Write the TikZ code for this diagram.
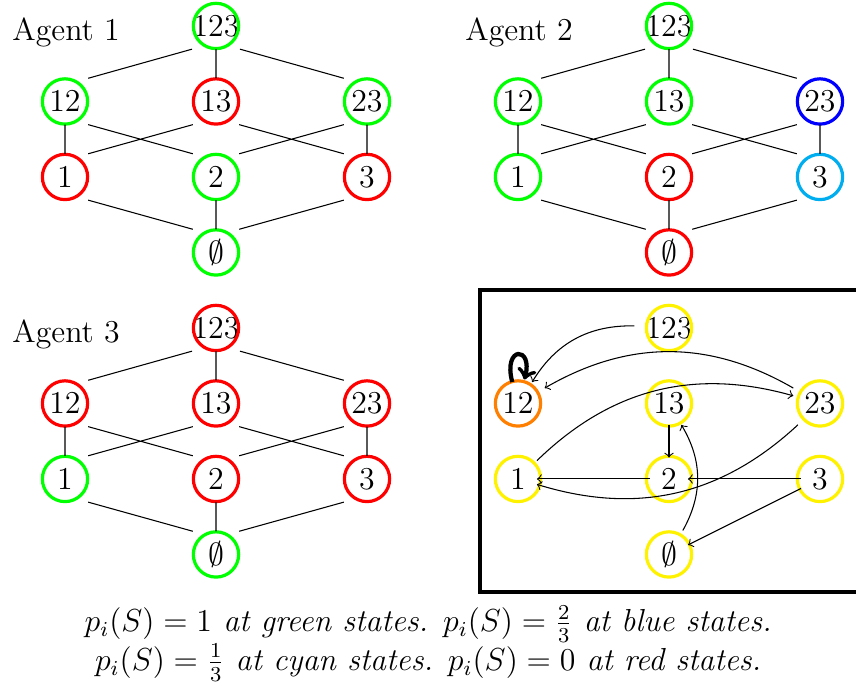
\documentclass[tikz,border=0pt,12pt]{standalone}
\usetikzlibrary{positioning}
\tikzset{
  ring/.style={circle, draw=#1, very thick, minimum size=6mm, inner sep=0pt},
  st/.style={rectangle, minimum size=6mm, inner sep=0pt, label={[ring=#1]center:}},
  bst/.style={label={[ring=#1]center:}}
}
\begin{document}
\begin{tikzpicture}[on grid, node distance=1cm and 2cm]
\useasboundingbox (-2.861,0.344) rectangle (8.477,-8.755);

\node[anchor=base west] (tA) at (-2.844,-0.186) {Agent 1};
\node[anchor=base west] (tB) at (3.156,-0.186) {Agent 2};
\node[anchor=base west] (tC) at (-2.844,-4.186) {Agent 3};

\node[st=green] (A123) at (0,0)             {$123$};
\node[st=green] (A12)  [below left=of A123]  {$12$};
\node[st=red]   (A13)  [below=of A123]       {$13$};
\node[st=green] (A23)  [below right=of A123] {$23$};
\node[st=red]   (A1)   [below=of A12]        {$1$};
\node[st=green] (A2)   [below=of A13]        {$2$};
\node[st=red]   (A3)   [below=of A23]        {$3$};
\node[st=green] (A0)   [below=of A2]         {$\emptyset$};

\node[st=green] (B123) [right=6cm of A123]   {$123$};
\node[st=green] (B12)  [below left=of B123]  {$12$};
\node[st=green] (B13)  [below=of B123]       {$13$};
\node[st=blue]  (B23)  [below right=of B123] {$23$};
\node[st=green] (B1)   [below=of B12]        {$1$};
\node[st=red]   (B2)   [below=of B13]        {$2$};
\node[st=cyan]  (B3)   [below=of B23]        {$3$};
\node[st=red]   (B0)   [below=of B2]         {$\emptyset$};

\node[st=red]   (C123) [below=4cm of A123]   {$123$};
\node[st=red]   (C12)  [below left=of C123]  {$12$};
\node[st=red]   (C13)  [below=of C123]       {$13$};
\node[st=red]   (C23)  [below right=of C123] {$23$};
\node[st=green] (C1)   [below=of C12]        {$1$};
\node[st=red]   (C2)   [below=of C13]        {$2$};
\node[st=red]   (C3)   [below=of C23]        {$3$};
\node[st=green] (C0)   [below=of C2]         {$\emptyset$};

\foreach \p in {A,B,C}
  \draw (\p123) -- (\p13) (\p12) -- (\p1) (\p23) -- (\p3) (\p2) -- (\p0)
        (\p123.south west) -- (\p12.north east) (\p123.south east) -- (\p23.north west)
        (\p12.south east) -- (\p2.north west) (\p13.south west) -- (\p1.north east)
        (\p13.south east) -- (\p3.north west) (\p23.south west) -- (\p2.north east)
        (\p1.south east) -- (\p0.north west) (\p3.south west) -- (\p0.north east);

\draw[ultra thick] (3.5,-3.5) rectangle (8.5,-7.5);

\node[bst=yellow] (D123) [below=4cm of B123]   {$123$};
\node[bst=orange] (D12)  [below left=of D123]  {$12$};
\node[bst=yellow] (D13)  [below=of D123]       {$13$};
\node[bst=yellow] (D23)  [below right=of D123] {$23$};
\node[bst=yellow] (D1)   [below=of D12]        {$1$};
\node[bst=yellow] (D2)   [below=of D13]        {$2$};
\node[bst=yellow] (D3)   [below=of D23]        {$3$};
\node[bst=yellow] (D0)   [below=of D2]         {$\emptyset$};

\path[->]
  (D123) edge [bend right] (D12)
  (D13)  edge (D2)
  (D23)  edge [bend right] (D12)
         edge [bend left] (D1)
  (D1)   edge [bend left] (D23)
  (D2)   edge (D1)
  (D3)   edge (D2)
         edge (D0)
  (D0)   edge [bend right] (D13)
  (D12)  edge [loop above, ultra thick] ();

\node[align=center, font=\itshape] (cap) at (2.81,-8.18)
  {$p_i(S) = 1$ at green states. $p_i(S) = \frac{2}{3}$ at blue states.\\
   $p_i(S) = \frac{1}{3}$ at cyan states. $p_i(S) = 0$ at red states.};
\end{tikzpicture}
\end{document}
